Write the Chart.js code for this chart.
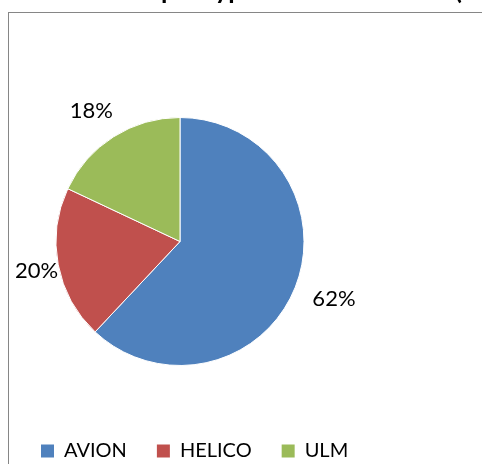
<!DOCTYPE html>
<html>
<head>
<meta charset="utf-8">
<script src="https://cdn.jsdelivr.net/npm/chart.js@4.4.0/dist/chart.umd.min.js"></script>
<style>
    html, body { margin: 0; padding: 0; background: #fff; overflow: hidden; }
    #frame { position: absolute; left: 8px; top: 12px; width: 600px; height: 600px; border: 1px solid #868686; }
    #wrap { position: absolute; left: 0; top: 0; width: 482px; height: 464px; }
</style>
</head>
<body>
<div id="frame"></div>
<div id="wrap"><canvas id="pie"></canvas></div>
<script>
// données
const categories = ['AVION', 'HELICO', 'ULM'];
const shares = [62, 20, 18];
const sliceColors = ['#4F81BD', '#C0504D', '#9BBB59'];
const chartTitle = "Nombre d'accidents par type d'aéronef utilisé (en %)";

const FONT = 'Lato, "Open Sans", sans-serif';

// titre coupé en haut : seules les jambes des lettres dépassent
const cutTitle = {
    id: 'cutTitle',
    afterDraw(chart) {
        const ctx = chart.ctx;
        ctx.save();
        ctx.font = 'bold 26px ' + FONT;
        ctx.fillStyle = '#000';
        ctx.textBaseline = 'alphabetic';
        ctx.textAlign = 'left';
        const before = ctx.measureText("Nombre d'accidents ").width;
        ctx.fillText(chartTitle, 161 - before, -1);
        ctx.restore();
    }
};

// étiquettes de pourcentage à l'extérieur des parts
const outsideLabels = {
    id: 'outsideLabels',
    afterDatasetsDraw(chart) {
        const ctx = chart.ctx;
        const meta = chart.getDatasetMeta(0);
        ctx.save();
        ctx.font = '22px ' + FONT;
        ctx.fillStyle = '#000';
        ctx.textAlign = 'center';
        ctx.textBaseline = 'middle';
        meta.data.forEach((arc, i) => {
            const p = arc.getProps(['x', 'y', 'startAngle', 'endAngle', 'outerRadius'], true);
            const mid = (p.startAngle + p.endAngle) / 2;
            const txt = shares[i] + '%';
            const w = ctx.measureText(txt).width;
            // la boîte du texte touche un cercle un peu plus grand que la part
            const r = p.outerRadius + 20;
            let x = p.x + Math.cos(mid) * r + Math.cos(mid) * w / 2;
            const y = p.y + Math.sin(mid) * r + Math.sin(mid) * 11;
            x = Math.max(x, 15 + w / 2);
            ctx.fillText(txt, x, y);
        });
        ctx.restore();
    }
};

const ctx = document.getElementById('pie').getContext('2d');
new Chart(ctx, {
    type: 'pie',
    data: {
        labels: categories,
        datasets: [{
            data: shares,
            backgroundColor: sliceColors,
            borderColor: '#ffffff',
            borderWidth: 1,
            radius: 124
        }]
    },
    options: {
        responsive: true,
        maintainAspectRatio: false,
        animation: false,
        layout: { padding: { left: 11, top: 72, right: 0, bottom: 0 } },
        plugins: {
            tooltip: { enabled: false },
            title: { display: false },
            // espace vide à droite pour décaler le camembert
            subtitle: {
                display: true,
                position: 'right',
                text: ' ',
                color: 'rgba(0,0,0,0)',
                font: { size: 10, lineHeight: 1 },
                padding: { top: 61.5, bottom: 61.5 }
            },
            legend: {
                position: 'bottom',
                align: 'start',
                maxHeight: 53,
                labels: {
                    boxWidth: 13,
                    boxHeight: 13,
                    padding: 30,
                    color: '#000',
                    font: { family: FONT, size: 20 },
                    generateLabels(chart) {
                        const items = Chart.overrides.pie.plugins.legend.labels.generateLabels(chart);
                        items.forEach(it => { it.lineWidth = 0; });
                        return items;
                    }
                }
            }
        }
    },
    plugins: [cutTitle, outsideLabels]
});
</script>
</body>
</html>
